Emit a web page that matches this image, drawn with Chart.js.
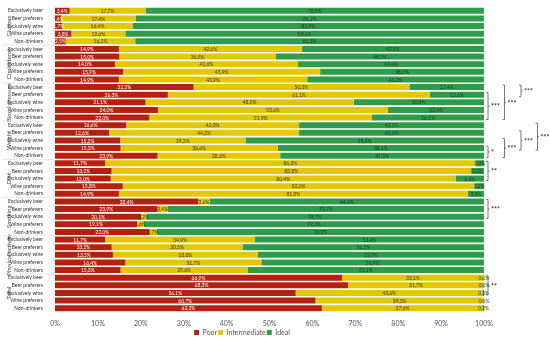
<!DOCTYPE html>
<html>
<head>
<meta charset="utf-8">
<script src="https://cdn.jsdelivr.net/npm/chart.js@4"></script>
<style>
  html, body { margin: 0; padding: 0; background: #fff; }
  #wrap { width: 550px; height: 338px; position: relative; }
</style>
</head>
<body>
<div id="wrap"><canvas id="chart"></canvas></div>
<script>
// Categories
const groups = ["Glucose", "Cholesterol", "Blood pressure", "Weight", "Diet", "Smoking", "Physical activity", "Total"];
const drinkers = ["Exclusively beer", "Beer preferers", "Exclusively wine", "Wine preferers", "Non-drinkers"];

// Percentages, 5 rows per group, same order as groups
const poor = [
  3.4, 1.4, 1.7, 3.8, 2.5,
  14.9, 15.0, 14.0, 15.9, 14.9,
  32.3, 26.3, 21.1, 24.0, 22.0,
  16.6, 12.6, 15.2, 15.3, 23.9,
  11.7, 13.2, 13.0, 15.8, 14.9,
  33.4, 23.9, 20.1, 19.1, 22.0,
  11.7, 13.2, 13.5, 16.4, 15.3,
  66.9, 68.3, 56.1, 60.7, 62.2
];
const intermediate = [
  17.7, 17.4, 16.4, 12.6, 16.2,
  42.6, 36.5, 42.6, 45.9, 43.9,
  50.3, 61.1, 48.5, 53.6, 51.9,
  40.3, 44.3, 29.2, 36.6, 28.6,
  86.3, 83.8, 80.4, 82.0, 81.3,
  2.6, 2.4, 1.2, 1.6, 1.7,
  34.9, 30.5, 33.8, 31.7, 29.6,
  33.1, 31.7, 43.6, 39.3, 37.6
];
const ideal = [
  78.9, 81.2, 81.9, 83.6, 81.3,
  42.5, 48.5, 43.4, 38.2, 41.2,
  17.4, 12.6, 30.4, 22.4, 26.1,
  43.1, 43.1, 55.6, 48.1, 47.5,
  2.0, 3.0, 6.6, 2.2, 3.8,
  64.0, 73.7, 78.7, 79.3, 76.3,
  53.4, 56.3, 52.7, 51.9, 55.1,
  0.0, 0.0, 0.3, 0.0, 0.2
];

// significance brackets: row range, nesting level, stars
const sigFrom  = [11, 10, 10, 18, 17, 16, 15, 20, 25, 35];
const sigTo    = [14, 14, 11, 19, 19, 18, 18, 22, 27, 37];
const sigLevel = [0, 1, 2, 0, 1, 2, 3, 0, 0, 0];
const sigText  = ["***", "***", "***", "*", "***", "***", "***", "**", "***", "**"];

const xTicks = [0, 10, 20, 30, 40, 50, 60, 70, 80, 90, 100];

const rowLabels = [];
groups.forEach(() => drinkers.forEach(d => rowLabels.push(d)));

const fmt = v => v.toFixed(1).replace('.', ',') + '%';

const labelColors = ['#ffffff', '#3d3300', '#163f1f'];

const segLabels = {
  id: 'segLabels',
  afterDatasetsDraw(chart) {
    const ctx = chart.ctx;
    ctx.save();
    ctx.font = '5px Lato';
    ctx.textAlign = 'center';
    ctx.textBaseline = 'middle';
    chart.data.datasets.forEach((ds, di) => {
      const meta = chart.getDatasetMeta(di);
      ctx.fillStyle = labelColors[di];
      meta.data.forEach((bar, i) => {
        const x = (bar.x + bar.base) / 2;
        ctx.fillText(fmt(ds.data[i]), x, bar.y + 0.5);
      });
    });
    ctx.restore();
  }
};

const groupLabels = {
  id: 'groupLabels',
  afterDraw(chart) {
    const ctx = chart.ctx;
    const y = chart.scales.y;
    ctx.save();
    ctx.font = '6px Lato';
    ctx.fillStyle = '#2f4a38';
    ctx.textAlign = 'center';
    ctx.textBaseline = 'middle';
    groups.forEach((g, gi) => {
      const top = y.getPixelForValue(gi * 5);
      const bot = y.getPixelForValue(gi * 5 + 4);
      ctx.save();
      ctx.translate(9, (top + bot) / 2);
      ctx.rotate(-Math.PI / 2);
      ctx.fillText(g, 0, 0);
      ctx.restore();
      if (gi > 0) {
        ctx.strokeStyle = '#d8d8d8';
        ctx.lineWidth = 0.6;
        ctx.beginPath();
        ctx.moveTo(2, top - 3.9);
        ctx.lineTo(54, top - 3.9);
        ctx.stroke();
      }
    });
    ctx.restore();
  }
};

const brackets = {
  id: 'brackets',
  afterDraw(chart) {
    const ctx = chart.ctx;
    const y = chart.scales.y;
    const right = chart.chartArea.right;
    ctx.save();
    ctx.strokeStyle = '#555';
    ctx.fillStyle = '#333';
    ctx.lineWidth = 0.8;
    ctx.font = 'bold 7px Lato';
    ctx.textAlign = 'left';
    ctx.textBaseline = 'middle';
    sigFrom.forEach((f, i) => {
      const x = right + 4 + sigLevel[i] * 16.5;
      const y1 = y.getPixelForValue(f) - 2;
      const y2 = y.getPixelForValue(sigTo[i]) + 2;
      const ym = (y1 + y2) / 2;
      ctx.beginPath();
      ctx.moveTo(x - 2, y1);
      ctx.lineTo(x, y1);
      ctx.lineTo(x, y2);
      ctx.lineTo(x - 2, y2);
      ctx.moveTo(x, ym);
      ctx.lineTo(x + 1.5, ym);
      ctx.stroke();
      ctx.fillText(sigText[i], x + 3, ym + 1);
    });
    ctx.restore();
  }
};

new Chart(document.getElementById('chart').getContext('2d'), {
  type: 'bar',
  data: {
    labels: rowLabels,
    datasets: [
      { label: 'Poor', data: poor, backgroundColor: '#b5200f' },
      { label: 'Intermediate', data: intermediate, backgroundColor: '#e3c800' },
      { label: 'Ideal', data: ideal, backgroundColor: '#2f9c4a' }
    ]
  },
  options: {
    indexAxis: 'y',
    responsive: true,
    maintainAspectRatio: false,
    animation: false,
    datasets: { bar: { categoryPercentage: 1, barPercentage: 0.8 } },
    layout: { padding: { top: 0, right: 66, left: 0, bottom: -8 } },
    scales: {
      x: {
        stacked: true,
        min: 0,
        max: 100,
        afterBuildTicks: s => { s.ticks = xTicks.map(v => ({ value: v })); },
        afterFit: s => { s.height = 16; },
        ticks: { callback: v => v + '%', font: { size: 7, family: 'Lato' }, color: '#555', padding: 0 },
        grid: { display: false, drawTicks: true, tickLength: 8 },
        border: { display: false }
      },
      y: {
        stacked: true,
        afterFit: s => { s.width = 55; },
        ticks: { font: { size: 5, family: 'Lato' }, color: '#333', padding: 4, autoSkip: false },
        grid: { display: false },
        border: { display: false }
      }
    },
    plugins: {
      legend: {
        position: 'bottom',
        labels: { boxWidth: 5, boxHeight: 5, padding: 1, font: { size: 7, family: 'Lato' }, color: '#555' }
      },
      tooltip: { enabled: false }
    }
  },
  plugins: [segLabels, groupLabels, brackets]
});
</script>
</body>
</html>
